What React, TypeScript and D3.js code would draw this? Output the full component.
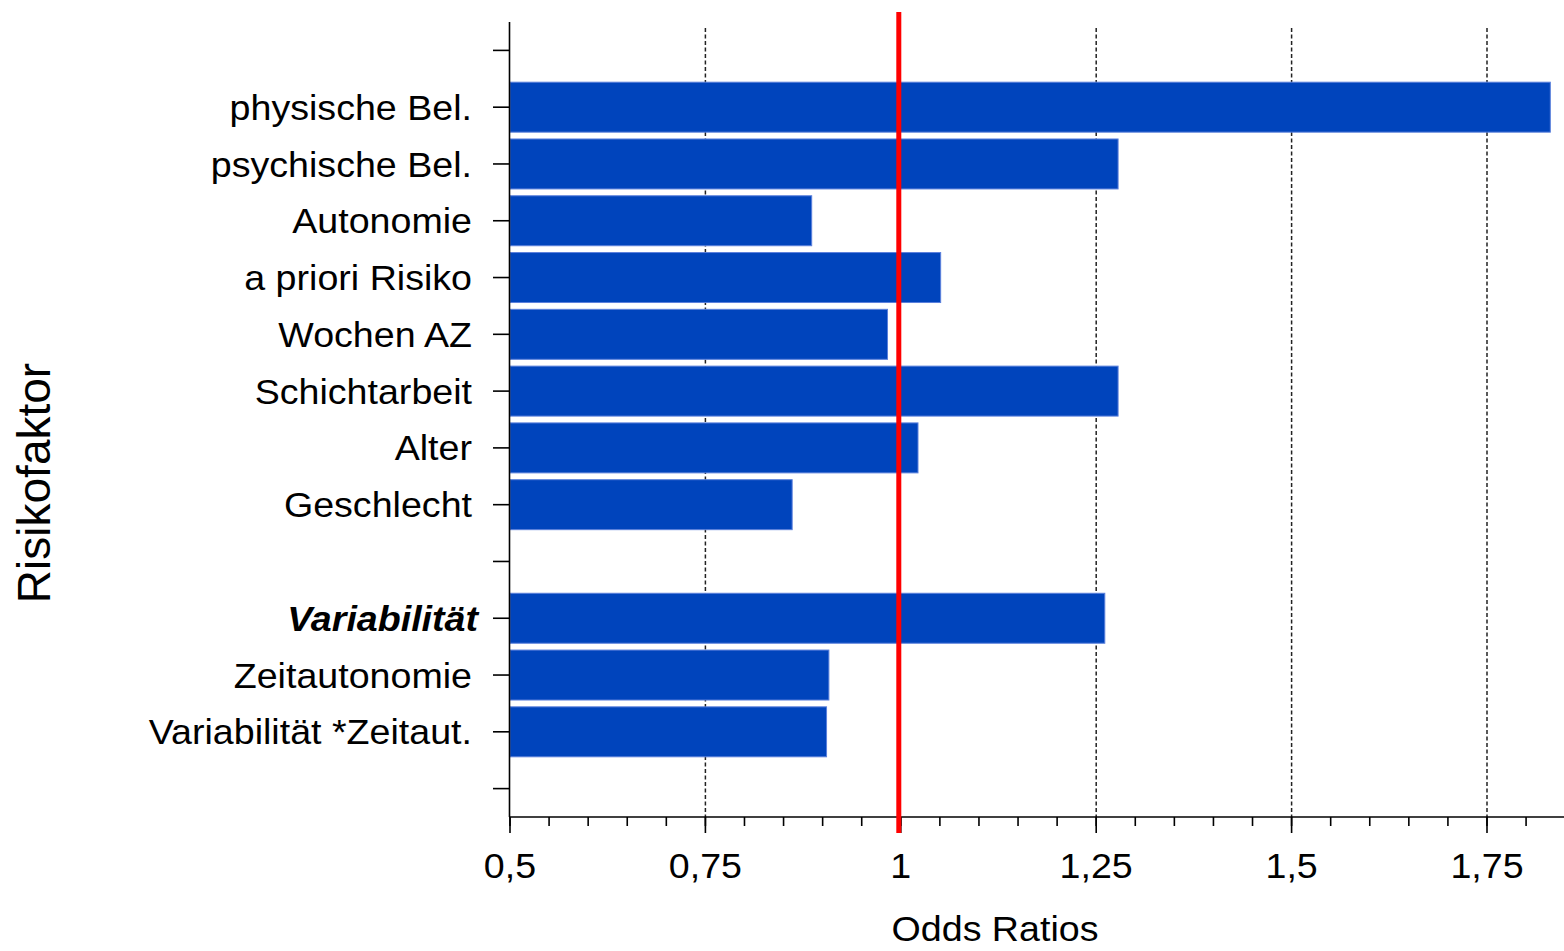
import * as d3 from "d3";

const categories = [
  "",
  "physische Bel.",
  "psychische Bel.",
  "Autonomie",
  "a priori Risiko",
  "Wochen AZ",
  "Schichtarbeit",
  "Alter",
  "Geschlecht",
  "",
  "Variabilität",
  "Zeitautonomie",
  "Variabilität *Zeitaut.",
  "",
];
const oddsRatios: Array<number | null> = [
  null, 1.831, 1.278, 0.886, 1.051, 0.983, 1.278, 1.022, 0.861,
  null, 1.261, 0.908, 0.905, null,
];
const emphasized = ["Variabilität"];
const majorTicks = [0.5, 0.75, 1, 1.25, 1.5, 1.75];
const gridTicks = [0.75, 1.25, 1.5, 1.75];
const referenceValue = 1;

const width = 1564;
const height = 951;
const font = "'Liberation Sans', Arial, sans-serif";
// the source font runs a little wider than Liberation Sans
const stretch = 1.045;

export default function App() {
  const x = d3.scaleLinear([0.5, 1.75], [510, 1487]);
  const y = d3
    .scaleBand<number>()
    .domain(d3.range(categories.length))
    .range([22, 817])
    .paddingInner(0.12)
    .paddingOuter(0.06);
  const step = y.step();
  const center = (i: number) => (y(i) as number) + y.bandwidth() / 2;
  const axisY = 817;
  const minorTicks = d3.range(10, 37).map((i) => i / 20);
  const fmt = (v: number) => String(v).replace(".", ",");
  const at = (tx: number, ty: number) =>
    `translate(${tx},${ty}) scale(${stretch},1)`;

  return (
    <svg
      width={width}
      height={height}
      style={{ position: "absolute", left: 0, top: 0, background: "#fff" }}
      fontFamily={font}
    >
      {/* grid */}
      <g stroke="#222" strokeWidth={1.5} strokeDasharray="4,2.5">
        {gridTicks.map((t) => (
          <line key={t} x1={x(t)} x2={x(t)} y1={28} y2={axisY} />
        ))}
      </g>

      {/* bars */}
      <g fill="#0044bc" stroke="#5b80dc" strokeWidth={1}>
        {oddsRatios.map((v, i) =>
          v == null ? null : (
            <rect
              key={i}
              x={x(0.5)}
              y={y(i)}
              width={x(v) - x(0.5)}
              height={y.bandwidth()}
            />
          )
        )}
      </g>

      {/* y axis */}
      <g stroke="#000" strokeWidth={1.6}>
        <line x1={509.5} x2={509.5} y1={22} y2={axisY} />
        {categories.map((_, i) => (
          <line key={i} x1={493} x2={509.5} y1={22 + step * (i + 0.5)} y2={22 + step * (i + 0.5)} />
        ))}
      </g>
      <g fontSize={36} textAnchor="end" fill="#000">
        {categories.map((c, i) =>
          c ? (
            <text
              key={i}
              transform={at(emphasized.includes(c) ? 478 : 472, center(i))}
              dy="0.35em"
              fontWeight={emphasized.includes(c) ? "bold" : "normal"}
              fontStyle={emphasized.includes(c) ? "italic" : "normal"}
            >
              {c}
            </text>
          ) : null
        )}
      </g>

      {/* x axis */}
      <g stroke="#000" strokeWidth={1.6}>
        <line x1={509} x2={width} y1={axisY} y2={axisY} />
        {minorTicks.map((t) => (
          <line key={t} x1={x(t)} x2={x(t)} y1={axisY} y2={axisY + 9} />
        ))}
        {majorTicks.map((t) => (
          <line key={t} x1={x(t)} x2={x(t)} y1={axisY} y2={axisY + 16} />
        ))}
      </g>
      <g fontSize={36} textAnchor="middle" fill="#000">
        {majorTicks.map((t) => (
          <text key={t} transform={at(x(t), 878)}>
            {fmt(t)}
          </text>
        ))}
      </g>

      {/* reference line */}
      <line
        x1={x(referenceValue) - 2}
        x2={x(referenceValue) - 2}
        y1={12}
        y2={833}
        stroke="#ff0000"
        strokeWidth={5}
      />

      {/* titles */}
      <text transform={at(995, 941)} fontSize={36} textAnchor="middle" fill="#000">
        Odds Ratios
      </text>
      <text
        transform="translate(50,483) rotate(-90)"
        fontSize={46}
        textAnchor="middle"
        fill="#000"
      >
        Risikofaktor
      </text>
    </svg>
  );
}
